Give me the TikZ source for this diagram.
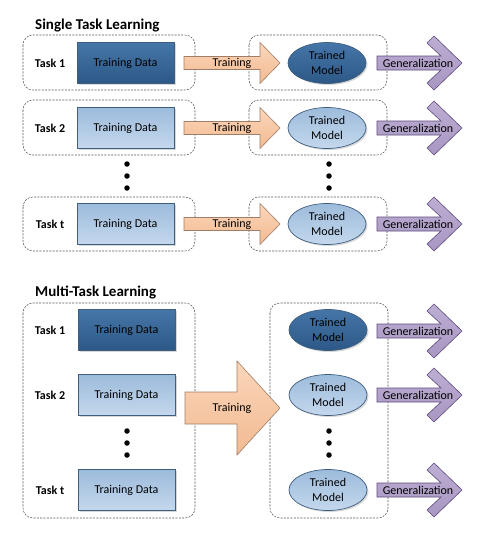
\documentclass[tikz,border=0pt]{standalone}
\usepackage{fontspec}
\setmainfont{Carlito}
\usetikzlibrary{shapes.geometric,shadows}
\definecolor{dkA}{HTML}{4576A8}
\definecolor{dkB}{HTML}{2C5886}
\definecolor{ltA}{HTML}{9DBBDB}
\definecolor{ltB}{HTML}{C4D8ED}
\definecolor{bdr}{HTML}{405F80}
\definecolor{trA}{HTML}{FBD6BA}
\definecolor{trB}{HTML}{F2BA92}
\definecolor{trL}{HTML}{A07E66}
\definecolor{gnA}{HTML}{BDAED3}
\definecolor{gnB}{HTML}{A897C2}
\definecolor{gnL}{HTML}{5E4C7C}
\definecolor{dsh}{HTML}{555555}
\newcommand\TrainArrow[2]{%
  \draw[trarr] (184,{#1-6.5}) -- (260,{#1-6.5}) -- (260,{#1-20.5}) -- (280,#1)
    -- (260,{#1+20.5}) -- (260,{#1+6.5}) -- (184,{#1+6.5}) -- cycle;
  \node[lbl] (#2) at (232,#1) {Training};}
\newcommand\GenArrow[2]{%
  \draw[genarr] (377,{#1-7}) -- (441,{#1-7}) -- (427,{#1-20}) -- (434,{#1-27}) -- (462,#1)
    -- (434,{#1+27}) -- (427,{#1+20}) -- (441,{#1+7}) -- (377,{#1+7}) -- cycle;
  \node[lbl] (#2) at (418,#1) {Generalization};}
\begin{document}
\begin{tikzpicture}[x=1pt,y=-1pt,
  lbl/.style={font=\fontsize{12}{14}\selectfont, inner sep=0pt},
  dashbox/.style={draw=dsh, dash pattern=on 2pt off 1.3pt, rounded corners=10pt, line width=0.55pt},
  databox/.style={rectangle, draw=bdr, line width=0.7pt, minimum width=97pt, minimum height=41pt,
     font=\fontsize{12}{14}\selectfont, inner sep=0pt,
     drop shadow={shadow xshift=1.5pt, shadow yshift=-1.5pt, opacity=0.3}},
  model/.style={ellipse, draw=bdr, line width=0.7pt, minimum width=78pt, minimum height=41pt,
     inner sep=0pt, align=center, font=\fontsize{12}{15}\selectfont,
     drop shadow={shadow xshift=1.5pt, shadow yshift=-1.5pt, opacity=0.3}},
  dark/.style={top color=dkA, bottom color=dkB},
  light/.style={top color=ltA, bottom color=ltB},
  tasklbl/.style={font=\bfseries\fontsize{12}{14}\selectfont, inner sep=0pt},
  title/.style={font=\bfseries\fontsize{15}{18}\selectfont, inner sep=0pt, anchor=base west},
  bigdot/.style={circle, fill=black, inner sep=0pt, minimum size=5.5pt},
  trarr/.style={draw=trL, line width=0.6pt, top color=trA, bottom color=trB},
  genarr/.style={draw=gnL, line width=0.6pt, top color=gnA, bottom color=gnB}]
\useasboundingbox (0,0) rectangle (482,536);
\fill[white] (0,0) rectangle (482,536);

% ---------- Single Task Learning ----------
\node[title] (t1) at (35,29) {Single Task Learning};

\draw[dashbox] (23,35) rectangle (195,90);
\draw[dashbox] (249,35) rectangle (387,90);
\draw[dashbox] (23,100) rectangle (195,155);
\draw[dashbox] (249,100) rectangle (387,155);
\draw[dashbox] (23,197) rectangle (195,251);
\draw[dashbox] (249,197) rectangle (387,251);

\node[tasklbl] (sl1) at (50,63) {Task 1};
\node[tasklbl] (sl2) at (50,128) {Task 2};
\node[tasklbl] (slt) at (50,224) {Task t};

\node[databox,dark]  (sd1) at (125.5,63) {Training Data};
\node[databox,light] (sd2) at (125.5,128) {Training Data};
\node[databox,light] (sdt) at (125.5,224) {Training Data};

\node[bigdot] (sa1) at (127,164) {};
\node[bigdot] (sa2) at (127,176) {};
\node[bigdot] (sa3) at (127,188) {};
\node[bigdot] (sb1) at (329,164) {};
\node[bigdot] (sb2) at (329,176) {};
\node[bigdot] (sb3) at (329,188) {};

\TrainArrow{63}{str1}
\TrainArrow{128}{str2}
\TrainArrow{224}{strt}

\node[model,dark]  (sm1) at (327,63) {Trained\\Model};
\node[model,light] (sm2) at (327,128) {Trained\\Model};
\node[model,light] (smt) at (327,224) {Trained\\Model};

\GenArrow{63}{sg1}
\GenArrow{128}{sg2}
\GenArrow{224}{sgt}

% ---------- Multi-Task Learning ----------
\node[title] (t2) at (35,296) {Multi-Task Learning};

\draw[dashbox] (23,303) rectangle (195,518);
\draw[dashbox] (270,303) rectangle (388,518);

\node[tasklbl] (ml1) at (50,330) {Task 1};
\node[tasklbl] (ml2) at (50,395) {Task 2};
\node[tasklbl] (mlt) at (50,490) {Task t};

\node[databox,dark]  (md1) at (126.5,330) {Training Data};
\node[databox,light] (md2) at (126.5,395) {Training Data};
\node[databox,light] (mdt) at (126.5,490) {Training Data};

\node[bigdot] (ma1) at (127,431) {};
\node[bigdot] (ma2) at (127,443) {};
\node[bigdot] (ma3) at (127,455) {};

\draw[trarr] (185,392) -- (237,392) -- (237,361) -- (280,408) -- (237,455)
   -- (237,424) -- (185,424) -- cycle;
\node[lbl] (mtr) at (232,408) {Training};

\node[model,dark]  (mm1) at (328,330) {Trained\\Model};
\node[model,light] (mm2) at (328,395) {Trained\\Model};
\node[model,light] (mmt) at (328,490) {Trained\\Model};

\node[bigdot] (mb1) at (329,431) {};
\node[bigdot] (mb2) at (329,443) {};
\node[bigdot] (mb3) at (329,455) {};

\GenArrow{331}{mg1}
\GenArrow{395}{mg2}
\GenArrow{490}{mgt}
\end{tikzpicture}
\end{document}
